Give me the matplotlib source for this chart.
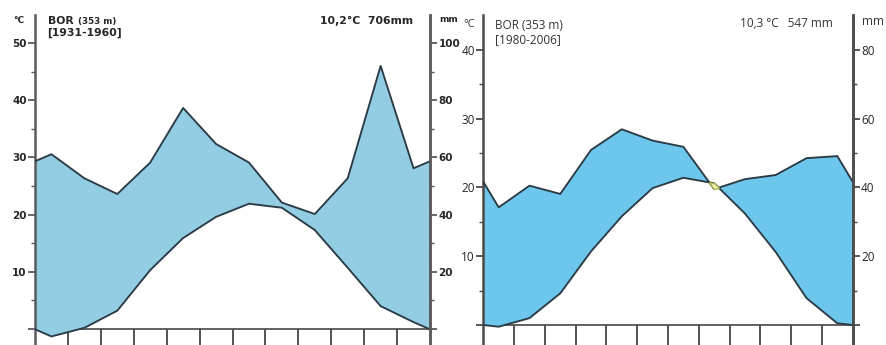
import numpy as np
import matplotlib
matplotlib.use("Agg")
import matplotlib.pyplot as plt

# Monthly means, Bor (353 m)
months = ["Jan", "Feb", "Mar", "Apr", "May", "Jun",
          "Jul", "Aug", "Sep", "Oct", "Nov", "Dec"]

temp_1931 = [-1.3, 0.2, 3.2, 10.3, 15.9, 19.6, 21.9, 21.2, 17.3, 10.7, 4.0, 1.2]
prec_1931 = [61.1, 52.7, 47.2, 58.2, 77.3, 64.7, 58.2, 44.2, 40.2, 52.7, 92.0, 56.2]

temp_1980 = [-0.25, 1.0, 4.6, 10.7, 15.8, 19.9, 21.4, 20.6, 16.2, 10.6, 3.9, 0.25]
prec_1980 = [34.2, 40.5, 38.1, 50.9, 56.9, 53.6, 51.8, 39.5, 42.4, 43.6, 48.5, 49.1]

W, H = 886, 345
fig = plt.figure(figsize=(W / 100, H / 100), dpi=100)


def px_text(x, y, s, **kw):
    fig.text(x / W, 1 - y / H, s, **kw)


def extend(vals):
    """Close the annual cycle at both edges with the Dec/Jan mean."""
    v = np.asarray(vals, dtype=float)
    edge = (v[0] + v[-1]) / 2
    return np.concatenate([[edge], v, [edge]])


x = np.concatenate([[0], np.arange(12) + 0.5, [12]])


def style_ticks(a, major, minor, spine_col, lab_font, lab_weight, lab_size):
    a.set_yticks(major)
    a.set_yticklabels(["" if m == 0 else str(int(m)) for m in major])
    a.set_yticks(minor, minor=True)
    a.tick_params(axis="y", which="major", direction="out", length=5,
                  width=1.3, color=spine_col, labelcolor="#262626",
                  labelsize=lab_size, pad=1)
    a.tick_params(axis="y", which="minor", direction="out", length=3,
                  width=1.0, color=spine_col)
    for lb in a.get_yticklabels():
        lb.set_fontfamily(lab_font)
        lb.set_fontweight(lab_weight)


def diagram(left, right, zero_y, px_per10, t_max, p_max, temp, prec,
            fill, spine_col, lab_font, lab_weight, lab_size, dry=None):
    top, bottom = 15, 345
    lo = -(bottom - zero_y) / px_per10 * 10
    hi = (zero_y - top) / px_per10 * 10
    ax = fig.add_axes([left / W, 0, (right - left) / W, (bottom - top) / H])
    ax.set_xlim(0, 12)
    ax.set_ylim(lo, hi)
    ax.patch.set_visible(False)

    t = extend(temp)
    p = extend(prec) / 2.0  # 20 mm per 10 °C

    # base line and month separators
    ax.axhline(0, color="#555555", lw=1.3, zorder=0.5)
    ax.vlines(np.arange(1, 12), lo, 0, color="#444444", lw=1.3, zorder=0.5)

    wet = p >= t
    ax.fill_between(x, t, p, where=wet, interpolate=True,
                    facecolor=fill, edgecolor="none", zorder=1)
    ax.plot(x, t, color="#2b3b45", lw=1.35, zorder=3)
    ax.plot(x, p, color="#2b3b45", lw=1.35, zorder=3)
    if dry is not None:
        ax.fill_between(x, p, t, where=~wet, interpolate=True,
                        facecolor=dry, edgecolor="#b9bb55", lw=1.1, zorder=4)

    for s in ("top", "bottom"):
        ax.spines[s].set_visible(False)
    for s in ("left", "right"):
        ax.spines[s].set_color(spine_col)
        ax.spines[s].set_linewidth(1.8)
    ax.set_xticks([])
    style_ticks(ax, np.arange(0, t_max + 1, 10), np.arange(5, t_max, 10),
                spine_col, lab_font, lab_weight, lab_size)

    ax2 = ax.twinx()
    ax2.set_ylim(2 * lo, 2 * hi)
    ax2.patch.set_visible(False)
    for s in ("top", "bottom", "left"):
        ax2.spines[s].set_visible(False)
    ax2.spines["right"].set_color(spine_col)
    ax2.spines["right"].set_linewidth(1.8)
    style_ticks(ax2, np.arange(0, p_max + 1, 20), np.arange(10, p_max, 20),
                spine_col, lab_font, lab_weight, lab_size)
    return ax


# 1931-1960
diagram(35, 430, 329, 57.2, 50, 100, temp_1931, prec_1931,
        fill="#93cde4", spine_col="#5a5a5a",
        lab_font="DejaVu Sans", lab_weight="bold", lab_size=7.5)

px_text(13, 23, "°C", fontsize=6.5, fontweight="bold", color="#262626",
        va="baseline", family="DejaVu Sans")
px_text(48, 24, "BOR", fontsize=7.8, fontweight="bold", color="#262626",
        va="baseline", family="DejaVu Sans")
px_text(78, 24, "(353 m)", fontsize=6.3, fontweight="bold", color="#262626",
        va="baseline", family="DejaVu Sans")
px_text(47, 36, "[1931-1960]", fontsize=7.8, fontweight="bold",
        color="#262626", va="baseline", family="DejaVu Sans")
px_text(413, 24, "10,2°C  706mm", fontsize=7.8, fontweight="bold",
        color="#262626", va="baseline", ha="right", family="DejaVu Sans")
px_text(439, 22, "mm", fontsize=6.5, fontweight="bold", color="#262626",
        va="baseline", family="DejaVu Sans")

# 1980-2006
diagram(483.3, 852.7, 325, 68.8, 40, 80, temp_1980, prec_1980,
        fill="#6dc7ed", spine_col="#4a4a4a",
        lab_font="Open Sans", lab_weight="normal", lab_size=8.5,
        dry="#fbfbcf")

px_text(475, 27, "°C", fontsize=8, color="#333333", va="baseline",
        ha="right", family="Open Sans")
px_text(495, 29, "BOR (353 m)", fontsize=8.5, color="#333333",
        va="baseline", family="Open Sans")
px_text(495, 43, "[1980-2006]", fontsize=8.5, color="#333333",
        va="baseline", family="Open Sans")
px_text(833, 27, "10,3 °C   547 mm", fontsize=8.5, color="#333333",
        va="baseline", ha="right", family="Open Sans")
px_text(862, 25, "mm", fontsize=8.5, color="#333333", va="baseline",
        family="Open Sans")

fig.savefig("out.png", dpi=100)
